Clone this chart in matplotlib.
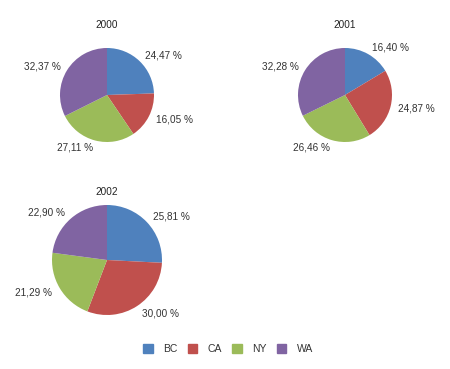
import matplotlib.pyplot as plt
import matplotlib.patches as mpatches

plt.rcParams['font.family'] = ['Liberation Sans', 'DejaVu Sans']

states = ["BC", "CA", "NY", "WA"]
colors = ["#4F81BD", "#C0504D", "#9BBB59", "#8064A2"]

years = ["2000", "2001", "2002"]
share_2000 = [24.47, 16.05, 27.11, 32.37]
share_2001 = [16.40, 24.87, 26.46, 32.28]
share_2002 = [25.81, 30.00, 21.29, 22.90]

W, H = 450, 369
fig = plt.figure(figsize=(W / 100, H / 100), dpi=100)

# pixel centre of each pie, pie radius in px, title height above centre in px
layout = [
    (years[0], share_2000, (107, 95), 47, 70),
    (years[1], share_2001, (345, 95), 47, 70),
    (years[2], share_2002, (107, 260), 55, 68),
]

box = 150  # axes size in px, limits -1.5..1.5 -> 50 px per unit
for year, vals, (cx, cy), rpx, tpx in layout:
    ax = fig.add_axes([(cx - box / 2) / W, (H - cy - box / 2) / H, box / W, box / H])
    r = rpx / 50.0
    labels = [f"{v:.2f} %".replace(".", ",") for v in vals]
    ax.pie(vals, colors=colors, radius=r, startangle=90, counterclock=False,
           labels=labels, labeldistance=1.16,
           textprops={"fontsize": 7.2, "color": "#333333"},
           wedgeprops={"linewidth": 0})
    ax.text(0, tpx / 50.0, year, ha="center", va="center", fontsize=7.2, color="#222222")
    ax.set_xlim(-1.5, 1.5)
    ax.set_ylim(-1.5, 1.5)
    ax.set_aspect("equal")
    ax.axis("off")

handles = [mpatches.Patch(color=c, label=s) for s, c in zip(states, colors)]
fig.legend(handles=handles, loc="center", bbox_to_anchor=(0.507, 1 - 349 / H),
           ncol=4, frameon=False, fontsize=7.5, handlelength=0.9, handleheight=0.9,
           handletextpad=1.0, columnspacing=1.0,
           labelcolor="#333333")

fig.savefig("out.png", dpi=100)
